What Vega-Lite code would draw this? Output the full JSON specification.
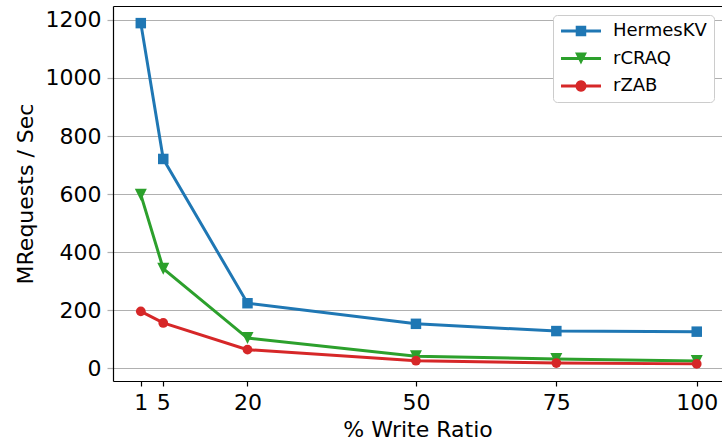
{
  "$schema": "https://vega.github.io/schema/vega-lite/v6.json",
  "width": 609,
  "height": 375,
  "autosize": {"type": "none"},
  "padding": {"left": 113, "top": 6, "right": 0, "bottom": 65},
  "background": "white",
  "config": {
    "font": "DejaVu Sans",
    "view": {"stroke": null},
    "axis": {
      "labelFont": "DejaVu Sans",
      "titleFont": "DejaVu Sans",
      "labelColor": "black",
      "titleColor": "black",
      "labelFontSize": 22,
      "titleFontSize": 22,
      "titleFontWeight": "normal",
      "domainColor": "black",
      "domainWidth": 1.2,
      "tickColor": "black",
      "tickWidth": 1.2
    }
  },
  "data": {
    "values": [
      {"ratio": 1, "series": "HermesKV", "value": 1189},
      {"ratio": 5, "series": "HermesKV", "value": 721},
      {"ratio": 20, "series": "HermesKV", "value": 224},
      {"ratio": 50, "series": "HermesKV", "value": 153},
      {"ratio": 75, "series": "HermesKV", "value": 128},
      {"ratio": 100, "series": "HermesKV", "value": 126},
      {"ratio": 1, "series": "rCRAQ", "value": 598},
      {"ratio": 5, "series": "rCRAQ", "value": 343},
      {"ratio": 20, "series": "rCRAQ", "value": 104},
      {"ratio": 50, "series": "rCRAQ", "value": 41},
      {"ratio": 75, "series": "rCRAQ", "value": 32},
      {"ratio": 100, "series": "rCRAQ", "value": 25},
      {"ratio": 1, "series": "rZAB", "value": 196},
      {"ratio": 5, "series": "rZAB", "value": 156},
      {"ratio": 20, "series": "rZAB", "value": 64},
      {"ratio": 50, "series": "rZAB", "value": 26},
      {"ratio": 75, "series": "rZAB", "value": 18},
      {"ratio": 100, "series": "rZAB", "value": 15}
    ]
  },
  "encoding": {
    "y": {"field": "value", "type": "quantitative", "scale": {"domain": [-44, 1248], "nice": false, "zero": false},
      "axis": {"values": [0, 200, 400, 600, 800, 1000, 1200], "format": "d", "title": "MRequests / Sec", "grid": true, "gridColor": "#b0b0b0", "gridWidth": 1, "tickColor": "#b0b0b0", "tickSize": 6, "labelPadding": 6, "titlePadding": 8, "labelFlush": false, "labelOverlap": false}}
  },
  "resolve": {"axis": {"x": "independent"}},
  "layer": [
    {
      "transform": [{"filter": "datum.series === 'HermesKV'"}],
      "mark": {"type": "line", "strokeWidth": 3, "color": "#1f77b4",
        "point": {"filled": true, "opacity": 1, "shape": "square", "size": 110, "color": "#1f77b4", "strokeWidth": 0}},
      "encoding": {
        "x": {"field": "ratio", "type": "quantitative", "scale": {"domain": [-3.95, 104.5], "nice": false, "zero": false},
          "axis": {"values": [1, 5, 20, 50, 75, 100], "title": "% Write Ratio", "grid": false, "tickSize": 5, "labelPadding": 6, "titlePadding": 6, "labelFlush": false, "labelOverlap": false}}
      }
    },
    {
      "transform": [{"filter": "datum.series === 'rCRAQ'"}],
      "mark": {"type": "line", "strokeWidth": 3, "color": "#2ca02c",
        "point": {"filled": true, "opacity": 1, "shape": "M-1,-1L1,-1L0,1Z", "size": 144, "color": "#2ca02c", "strokeWidth": 0}},
      "encoding": {
        "x": {"field": "ratio", "type": "quantitative", "scale": {"domain": [-3.95, 104.5], "nice": false, "zero": false},
          "axis": {"orient": "top", "labels": false, "ticks": false, "title": null, "grid": false, "domain": true}}
      }
    },
    {
      "transform": [{"filter": "datum.series === 'rZAB'"}],
      "mark": {"type": "line", "strokeWidth": 3, "color": "#d62728",
        "point": {"filled": true, "opacity": 1, "shape": "circle", "size": 95, "color": "#d62728", "strokeWidth": 0}},
      "encoding": {
        "x": {"field": "ratio", "type": "quantitative", "scale": {"domain": [-3.95, 104.5], "nice": false, "zero": false}, "axis": null}
      }
    },
    {
      "mark": {"type": "point", "filled": true, "opacity": 0},
      "encoding": {
        "x": {"field": "ratio", "type": "quantitative", "scale": {"domain": [-3.95, 104.5], "nice": false, "zero": false}, "axis": null},
        "color": {"field": "series", "type": "nominal", "scale": {"domain": ["HermesKV", "rCRAQ", "rZAB"], "range": ["#1f77b4", "#2ca02c", "#d62728"]},
          "legend": {"title": null, "orient": "none", "legendX": 440, "legendY": 9, "padding": 7, "strokeColor": "#cccccc", "fillColor": "white", "cornerRadius": 4, "labelFontSize": 18, "labelFont": "DejaVu Sans", "labelColor": "black", "symbolSize": 196, "labelOffset": 35, "rowPadding": 9.5, "symbolStrokeWidth": 0, "symbolOpacity": 1}},
        "shape": {"field": "series", "type": "nominal",
          "scale": {"domain": ["HermesKV", "rCRAQ", "rZAB"], "range": [
            "M-1.14,-0.21H4.57V0.21H-1.14Z M0.96,-0.75H2.46V0.75H0.96Z",
            "M-1.14,-0.21H4.57V0.21H-1.14Z M0.86,-0.86L2.57,-0.86L1.71,0.86Z",
            "M-1.14,-0.21H4.57V0.21H-1.14Z M2.5,0A0.786,0.786 0 1,1 0.93,0A0.786,0.786 0 1,1 2.5,0Z"
          ]},
          "legend": {"title": null, "orient": "none", "legendX": 440, "legendY": 9, "padding": 7, "strokeColor": "#cccccc", "fillColor": "white", "cornerRadius": 4, "labelFontSize": 18, "labelFont": "DejaVu Sans", "labelColor": "black", "symbolSize": 196, "labelOffset": 35, "rowPadding": 9.5, "symbolStrokeWidth": 0, "symbolOpacity": 1}}
      }
    }
  ]
}
